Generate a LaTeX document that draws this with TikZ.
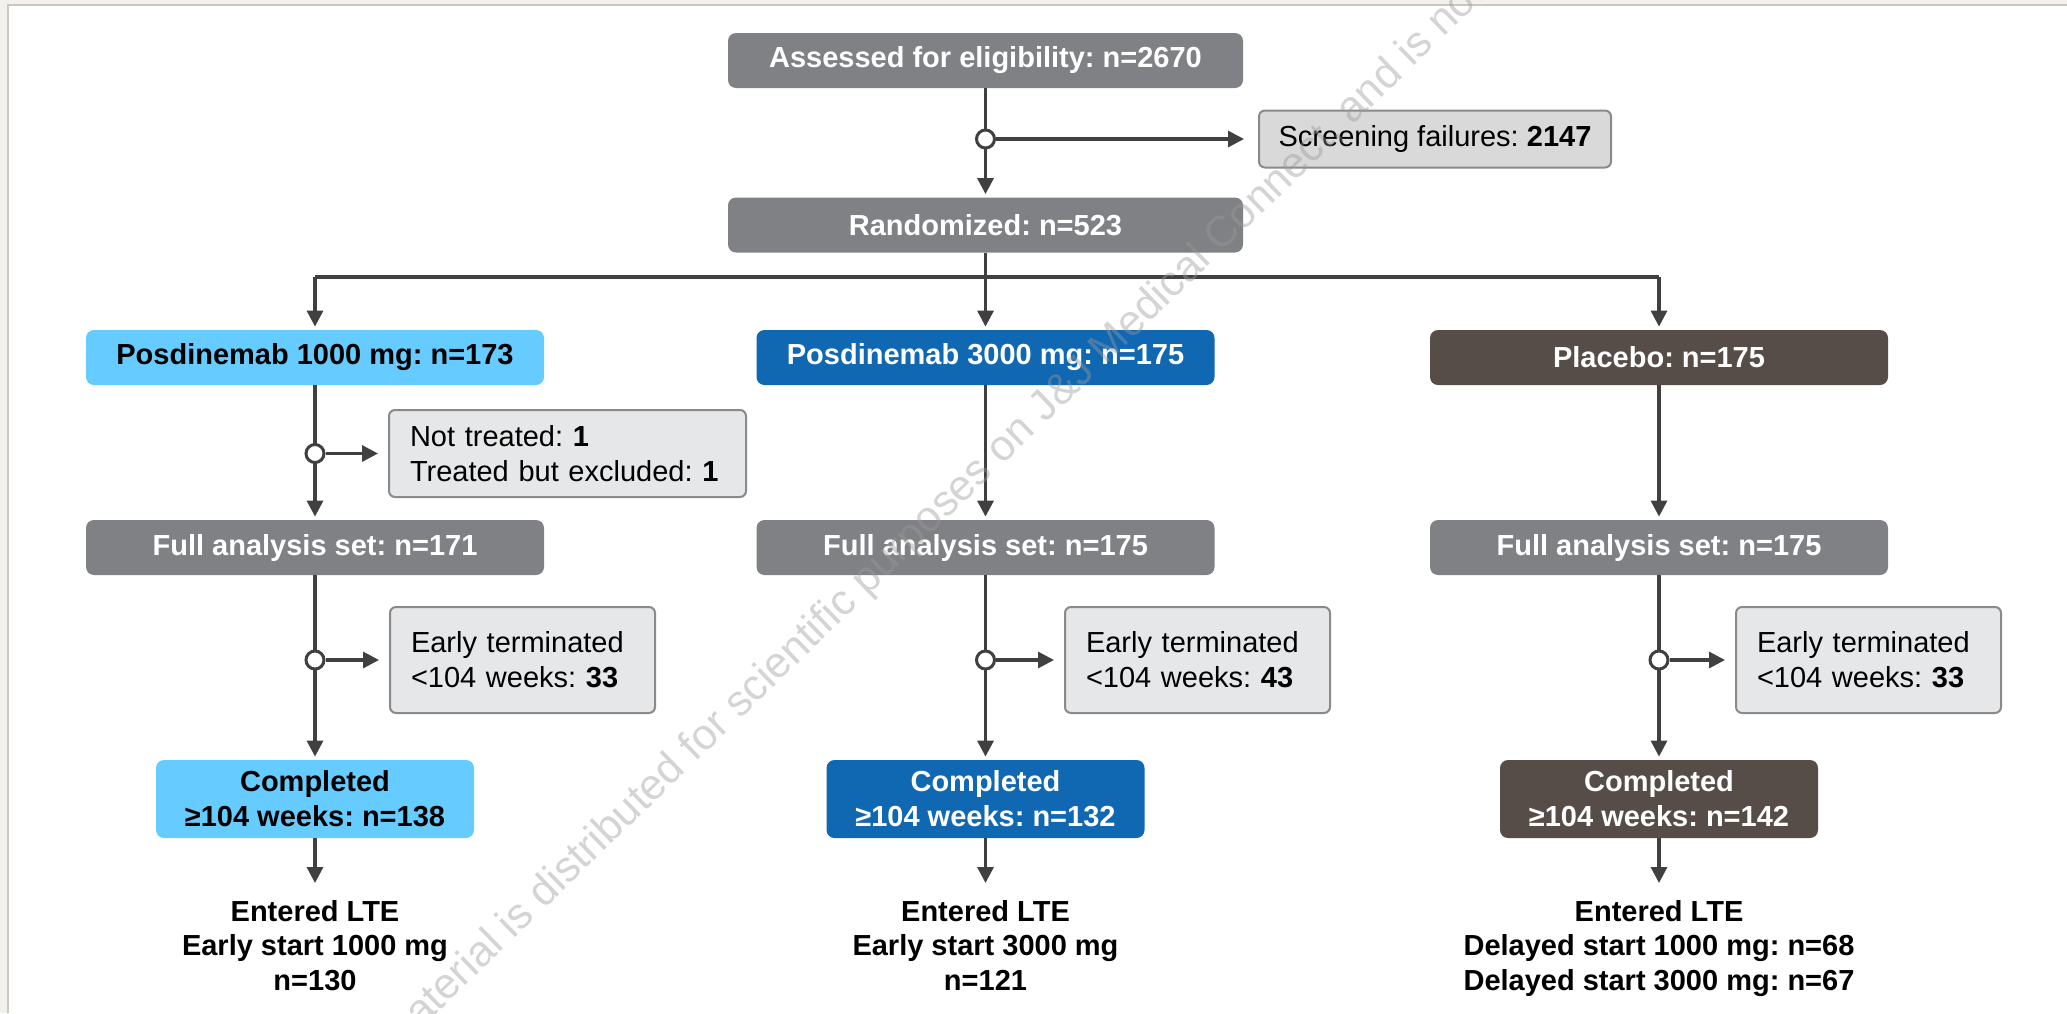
\documentclass[tikz,border=0pt]{standalone}
\usepackage{fontspec}
\setmainfont{Liberation Sans}
\usetikzlibrary{arrows.meta}
\definecolor{boxgray}{HTML}{808184}
\definecolor{lblue}{HTML}{66CCFF}
\definecolor{dblue}{HTML}{1068B2}
\definecolor{pbrown}{HTML}{574D48}
\definecolor{exfill}{HTML}{E6E7E8}
\definecolor{scfill}{HTML}{D9D9D9}
\definecolor{exline}{HTML}{8A8A8A}
\definecolor{lin}{HTML}{404040}
\definecolor{framebg}{HTML}{F2F1EE}
\definecolor{frameline}{HTML}{CCC7C1}
\frenchspacing
\begin{document}
\begin{tikzpicture}[x=0.5pt,y=-0.5pt,
  font=\fontsize{14.5}{17.5}\selectfont,
  colbox/.style={rounded corners=4pt, inner sep=0pt, align=center,
    font=\fontsize{14.5}{17.5}\selectfont\bfseries, text=white},
  graybox/.style={colbox, fill=boxgray, minimum width=257.5pt, minimum height=27.5pt},
  grp/.style={colbox, minimum width=229pt, minimum height=27.5pt},
  comp/.style={colbox, minimum width=159pt, minimum height=39pt},
  exbox/.style={draw=exline, fill=exfill, line width=1pt, rounded corners=3pt,
    align=left, inner xsep=10.5pt, inner ysep=0pt},
  scbox/.style={draw=exline, fill=scfill, line width=1pt, rounded corners=3pt,
    inner sep=0pt, minimum width=176pt, minimum height=28.5pt},
  lte/.style={anchor=north, inner sep=0pt, align=center,
    font=\fontsize{14.5}{17.25}\selectfont\bfseries},
  ln/.style={draw=lin, line width=1.6pt},
  arr/.style={ln, -{Triangle[length=8pt,width=8pt]}, shorten >=1.5pt},
  side/.style={arr, shorten >=5pt},
  dot/.style={circle, draw=lin, fill=white, line width=1.5pt, minimum size=9pt, inner sep=0pt},
  wmark/.style={rotate=44.1, anchor=base west, inner sep=0pt,
    font=\fontsize{21.5}{26}\selectfont, text=black!40, text opacity=0.42}
]
\useasboundingbox (0,0) rectangle (2067,1013);
\begin{scope}
\clip (0,0) rectangle (2067,1013);
% frame
\fill[framebg] (0,0) rectangle (2067,1013);
\fill[white] (9,6) rectangle (2067,1013);
\draw[frameline, line width=1pt] (8,1013) -- (8,5) -- (2067,5);

% boxes
\node[graybox] (assess) at (985.5,60.5) {Assessed for eligibility: n=2670};
\node[scbox] (screen) at (1435,139) {Screening failures: \textbf{2147}};
\node[graybox] (rand) at (985.5,225) {Randomized: n=523};

\node[grp, fill=lblue, text=black] (g1) at (315,357.5) {Posdinemab 1000 mg: n=173};
\node[grp, fill=dblue] (g2) at (985.5,357.5) {Posdinemab 3000 mg: n=175};
\node[grp, fill=pbrown] (g3) at (1659,357.5) {Placebo: n=175};

\node[exbox, text width=157.5pt, minimum height=43.5pt] (ex1) at (567.5,453.5)
  {Not treated: \textbf{1}\\Treated but excluded: \textbf{1}};

\node[grp, fill=boxgray] (f1) at (315,547.5) {Full analysis set: n=171};
\node[grp, fill=boxgray] (f2) at (985.5,547.5) {Full analysis set: n=175};
\node[grp, fill=boxgray] (f3) at (1659,547.5) {Full analysis set: n=175};

\node[exbox, text width=111.5pt, minimum height=53pt] (e1) at (522.5,660)
  {Early terminated\\<104 weeks: \textbf{33}};
\node[exbox, text width=111.5pt, minimum height=53pt] (e2) at (1197.5,660)
  {Early terminated\\<104 weeks: \textbf{43}};
\node[exbox, text width=111.5pt, minimum height=53pt] (e3) at (1868.5,660)
  {Early terminated\\<104 weeks: \textbf{33}};

\node[comp, fill=lblue, text=black] (k1) at (315,799) {Completed\\≥104 weeks: n=138};
\node[comp, fill=dblue] (k2) at (985.5,799) {Completed\\≥104 weeks: n=132};
\node[comp, fill=pbrown] (k3) at (1659,799) {Completed\\≥104 weeks: n=142};

\node[lte] (l1) at (315,900) {Entered LTE\\Early start 1000 mg\\n=130};
\node[lte] (l2) at (985.5,900) {Entered LTE\\Early start 3000 mg\\n=121};
\node[lte] (l3) at (1659,900) {Entered LTE\\Delayed start 1000 mg: n=68\\Delayed start 3000 mg: n=67};

% connectors
\coordinate (busL) at (315,277);
\coordinate (busR) at (1659,277);
\draw[arr] (assess) -- (rand);
\draw[ln] (busL) -- (busR);
\draw[arr] (rand) -- (g2);
\draw[arr] (busL) -- (g1);
\draw[arr] (busR) -- (g3);
\draw[arr] (g1) -- (f1);
\draw[arr] (g2) -- (f2);
\draw[arr] (g3) -- (f3);
\draw[arr] (f1) -- (k1);
\draw[arr] (f2) -- (k2);
\draw[arr] (f3) -- (k3);
\draw[arr, shorten >=8.5pt] (k1) -- (l1);
\draw[arr, shorten >=8.5pt] (k2) -- (l2);
\draw[arr, shorten >=8.5pt] (k3) -- (l3);

% junction dots
\node[dot] (d0) at (985.5,139) {};
\node[dot] (d1) at (315,453.5) {};
\node[dot] (d2) at (315,660) {};
\node[dot] (d3) at (985.5,660) {};
\node[dot] (d4) at (1659,660) {};
\draw[arr, shorten >=7pt] (d0) -- (screen);
\draw[side] (d1) -- (ex1);
\draw[side] (d2) -- (e1);
\draw[side] (d3) -- (e2);
\draw[side] (d4) -- (e3);

% watermark
\node[wmark] (wm) at (395,1054) {material is distributed for scientific purposes on J\&J Medical Connect, and is not};
\end{scope}
\end{tikzpicture}
\end{document}
